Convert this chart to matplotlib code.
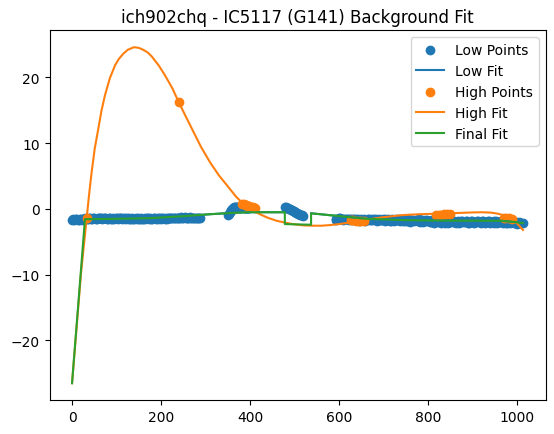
import matplotlib
matplotlib.use("Agg")
import matplotlib.pyplot as plt
import numpy as np

title = "ich902chq - IC5117 (G141) Background Fit"

# Low points (blue) - left band, two interleaved rows
low_left_x = list(range(0, 290, 5))
low_left_y = [-1.75, -1.7, -1.6, -1.65, -1.55, -1.6, -1.5, -1.55, -1.45, -1.5,
              -1.4, -1.5, -1.45, -1.35, -1.45, -1.4, -1.5, -1.45, -1.55, -1.5,
              -1.4, -1.3, -1.35, -1.45, -1.5, -1.55, -1.5, -1.45, -1.55, -1.6,
              -1.5, -1.45, -1.5, -1.55, -1.45, -1.4, -1.5, -1.45, -1.35, -1.4,
              -1.5, -1.45, -1.4, -1.35, -1.3, -1.4, -1.45, -1.35, -1.3, -1.25,
              -1.35, -1.4, -1.3, -1.25, -1.3, -1.35, -1.4, -1.45]
low_left2_x = list(range(3, 290, 5))
low_left2_y = [-1.6, -1.55, -1.7, -1.5, -1.65, -1.45, -1.6, -1.4, -1.55, -1.35,
               -1.55, -1.4, -1.3, -1.5, -1.35, -1.55, -1.4, -1.6, -1.45, -1.35,
               -1.5, -1.45, -1.55, -1.35, -1.4, -1.45, -1.6, -1.5, -1.4, -1.45,
               -1.55, -1.6, -1.4, -1.35, -1.55, -1.5, -1.35, -1.55, -1.5, -1.3,
               -1.35, -1.55, -1.5, -1.45, -1.4, -1.3, -1.35, -1.45, -1.4, -1.35,
               -1.25, -1.3, -1.4, -1.35, -1.45, -1.3, -1.35, -1.4]
# middle clusters
low_mid1_x = [350, 352, 354, 356, 358, 360, 362, 364, 366, 368, 370, 372, 374,
              376, 378, 380, 382, 384, 386, 388, 390, 392, 394, 396, 398]
low_mid1_y = [-0.9, -0.7, -0.5, -0.3, -0.1, 0.05, 0.15, 0.25, 0.3, 0.35, 0.35,
              0.35, 0.35, 0.35, 0.3, 0.3, 0.3, 0.25, 0.25, 0.2, 0.2, 0.15, 0.15,
              0.1, 0.1]
low_mid2_x = [478, 480, 482, 484, 486, 488, 490, 492, 494, 496, 498, 500, 502,
              504, 506, 508, 510, 512, 514, 516, 518]
low_mid2_y = [0.3, 0.25, 0.2, 0.15, 0.1, 0.05, -0.05, -0.1, -0.2, -0.25, -0.35,
              -0.4, -0.5, -0.55, -0.65, -0.7, -0.8, -0.85, -0.9, -0.95, -1.0]
# right band, two interleaved rows
low_right_x = list(range(592, 1013, 5))
low_right_y = [-1.5, -1.6, -1.45, -1.55, -1.6, -1.5, -1.65, -1.55, -1.6, -1.7,
               -1.6, -1.75, -1.65, -1.6, -1.7, -1.55, -1.65, -1.7, -1.6, -1.75,
               -1.65, -1.7,
               -1.6, -1.75, -1.65, -1.8, -1.7, -1.6, -1.75, -1.85, -1.7, -1.65,
               -1.8, -1.7, -1.9, -1.75, -1.65, -1.8, -1.95, -1.75, -1.85, -1.7,
               -1.8, -2.0, -1.75, -1.9, -2.05, -1.8, -1.95, -2.1, -1.85, -2.0,
               -1.75, -1.95, -2.1, -1.9, -2.0, -1.8, -2.05, -1.9, -2.1, -1.85,
               -2.0, -1.95, -1.8, -2.05, -1.9, -2.1, -1.95, -1.85, -2.0, -2.1,
               -1.9, -2.05, -1.95, -1.85, -2.0, -2.1, -1.95, -2.05, -2.15, -2.0,
               -2.1, -2.2, -2.1]
low_right2_x = list(range(594, 1013, 5))
low_right2_y = [-1.65, -1.45, -1.6, -1.7, -1.5, -1.6, -1.55, -1.75, -1.5, -1.6,
                -1.8, -1.55, -1.7, -1.8, -1.55, -1.75, -1.6, -1.55, -1.8, -1.6,
                -1.75, -1.55,
                -1.8, -1.6, -1.9, -1.6, -1.85, -1.75, -1.6, -1.7, -1.9, -1.8,
                -1.6, -1.95, -1.7, -1.85, -1.75, -1.6, -1.8, -1.95, -1.7, -1.9,
                -2.0, -1.7, -2.1, -1.85, -1.75, -2.1, -1.8, -1.95, -2.15, -1.8,
                -2.05, -1.85, -2.0, -2.15, -1.8, -2.0, -1.85, -2.15, -1.95, -1.8,
                -2.1, -1.85, -2.0, -2.2, -1.85, -2.05, -1.9, -2.15, -1.95, -1.85,
                -2.2, -2.0, -1.9, -2.1, -2.2, -1.9, -2.15, -2.0, -1.95, -2.25,
                -2.05, -2.15]

# High points (orange)
high_x = [33, 240, 382, 386, 390, 394, 398, 402, 406, 410,
          626, 632, 638, 644, 650, 656,
          818, 824, 830, 836, 842, 848,
          970, 976, 982, 988]
high_y = [-1.3, 16.2, 0.75, 0.7, 0.6, 0.5, 0.45, 0.35, 0.3, 0.2,
          -1.7, -1.75, -1.8, -1.85, -1.85, -1.9,
          -0.95, -0.9, -0.85, -0.8, -0.75, -0.7,
          -1.3, -1.35, -1.4, -1.5]

# High fit (orange line)
high_fit_x = [0, 10, 20, 33, 38, 44, 51, 59, 66, 74, 85, 97, 105, 115, 125,
              139, 150, 160, 170, 179, 195, 209, 225, 240, 256, 273, 290, 310,
              330, 348, 368, 389, 405, 422, 440, 460, 480, 500, 520, 540, 560,
              580, 600, 620, 640, 660, 680, 700, 720, 740, 760, 780, 805, 830,
              855, 880, 900, 920, 940, 955, 970, 985, 1000, 1013]
high_fit_y = [-26.5, -18.2, -9.9, -1.3, 2.0, 5.6, 9.2, 12.2, 14.9, 17.3, 19.9,
              21.9, 22.8, 23.6, 24.2, 24.6, 24.5, 24.2, 23.8, 23.2, 21.8, 20.3,
              18.4, 16.2, 14.0, 11.7, 9.4, 7.1, 5.1, 3.6, 1.9, 0.5, -0.2, -0.8,
              -1.35, -1.8, -2.1, -2.35, -2.5, -2.55, -2.55, -2.45, -2.3, -2.1,
              -1.9, -1.65, -1.45, -1.25, -1.1, -0.95, -0.87, -0.8, -0.75, -0.7,
              -0.65, -0.58, -0.53, -0.5, -0.55, -0.7, -0.95, -1.45, -2.2, -3.2]

# Low fit (blue line, segments based on low points)
low_fit_x = [30, 100, 175, 250, 310, 360, 400, 440, 478, np.nan,
             537, 587, 662, 737, 800, 849, 900, 962, 990, 1013]
low_fit_y = [-1.55, -1.5, -1.4, -1.1, -0.8, -0.6, -0.5, -0.5, -0.5, np.nan,
             -0.66, -1.0, -1.5, -1.68, -1.75, -1.78, -1.78, -1.8, -1.95, -2.15]

# Final fit (green line)
final_x = [0, 29, 32, 100, 175, 250, 310, 360, 400, 440, 478, 478, 537, 537,
           587, 662, 737, 800, 849, 900, 962, 990, 1013]
final_y = [-26.5, -1.55, -1.55, -1.5, -1.4, -1.1, -0.8, -0.6, -0.5, -0.5, -0.5,
           -2.3, -2.4, -0.66, -1.0, -1.5, -1.68, -1.75, -1.78, -1.78, -1.8,
           -1.95, -2.15]

low_x = (low_left_x + low_left2_x + low_mid1_x + low_mid2_x
         + low_right_x + low_right2_x)
low_y = (low_left_y + low_left2_y + low_mid1_y + low_mid2_y
         + low_right_y + low_right2_y)

fig = plt.figure(figsize=(5.54, 4.35), dpi=100)
ax = fig.add_axes([49.5 / 554, 34 / 435, 496 / 554, 369.6 / 435])

ax.scatter(low_x, low_y, color="C0", label="Low Points")
ax.plot(low_fit_x, low_fit_y, color="C0", label="Low Fit")
ax.scatter(high_x, high_y, color="C1", label="High Points")
ax.plot(high_fit_x, high_fit_y, color="C1", label="High Fit")
ax.plot(final_x, final_y, color="C2", label="Final Fit")

ax.set_title(title)
ax.legend(loc="upper right")

fig.savefig("out.png", dpi=100)
